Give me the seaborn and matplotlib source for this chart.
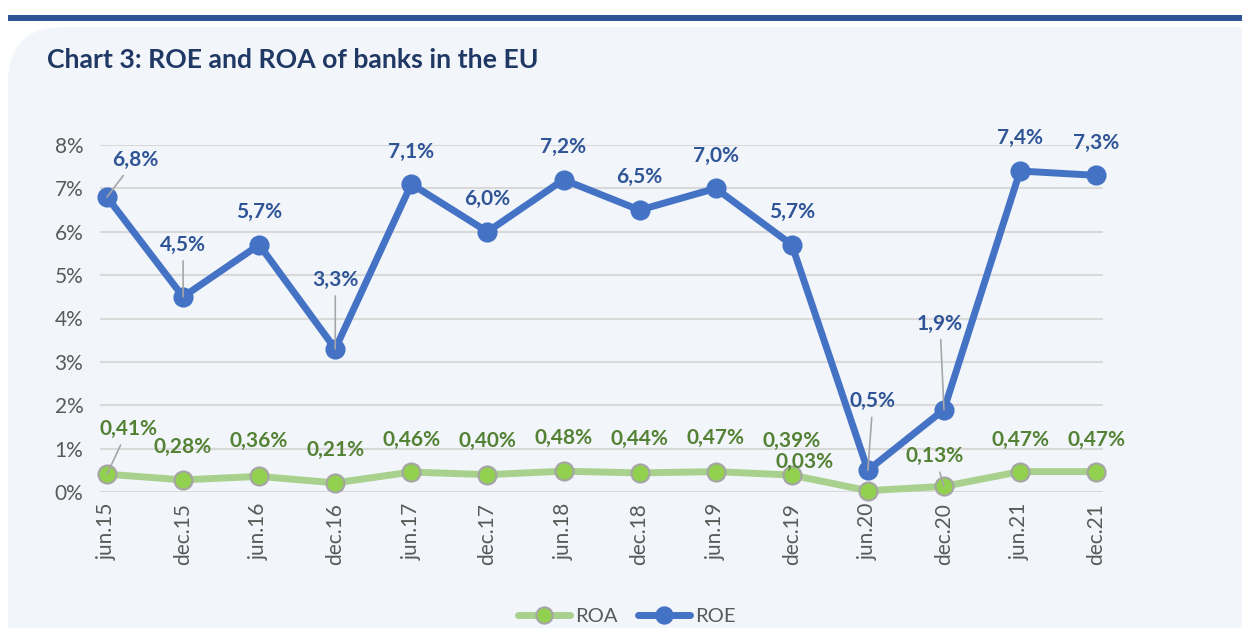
import matplotlib
matplotlib.use("Agg")
import matplotlib.pyplot as plt
from matplotlib.patches import FancyBboxPatch, Rectangle
import seaborn as sns
import pandas as pd

periods = ["jun.15", "dec.15", "jun.16", "dec.16", "jun.17", "dec.17", "jun.18",
           "dec.18", "jun.19", "dec.19", "jun.20", "dec.20", "jun.21", "dec.21"]
roe = [6.8, 4.5, 5.7, 3.3, 7.1, 6.0, 7.2, 6.5, 7.0, 5.7, 0.5, 1.9, 7.4, 7.3]
roa = [0.41, 0.28, 0.36, 0.21, 0.46, 0.40, 0.48, 0.44, 0.47, 0.39, 0.03, 0.13, 0.47, 0.47]
y_ticks = [0, 1, 2, 3, 4, 5, 6, 7, 8]
title = "Chart 3: ROE and ROA of banks in the EU"

sns.set_theme(style="white")
plt.rcParams['font.family'] = ['Lato', 'DejaVu Sans']

W, H = 1242, 628
fig = plt.figure(figsize=(W / 100, H / 100), dpi=100)
fig.patch.set_facecolor("white")

# panel background and top bar
bg = "#F2F5FA"
panel = FancyBboxPatch((8 / W, -0.1), 1.2, (628 - 27) / H + 0.1,
                       boxstyle="round,pad=0,rounding_size=0.045",
                       transform=fig.transFigure, facecolor=bg, edgecolor="none",
                       mutation_aspect=W / H, zorder=-3)
fig.patches.append(panel)
fig.patches.append(Rectangle((8 / W, 1 - 21 / H), 1, 6 / H, transform=fig.transFigure,
                             facecolor="#2F5597", edgecolor="none", zorder=-2))
fig.text(47 / W, 1 - 60 / H, title, fontsize=19.2, fontweight="bold",
         color="#1F3864", va="center", ha="left")

left, right = 100 / W, 1103 / W
bottom, top = 1 - 492 / H, 1 - 145 / H
ax = fig.add_axes([left, bottom, right - left, top - bottom])
ax.set_zorder(1)
ax.patch.set_alpha(0)

df = pd.DataFrame({"x": range(len(periods)), "period": periods, "ROE": roe, "ROA": roa})

sns.lineplot(data=df, x="x", y="ROA", ax=ax, color="#A9D18E", lw=5,
             marker="o", markersize=13, markerfacecolor="#92D050",
             markeredgecolor="#A5A5A5", markeredgewidth=1.5, label="ROA",
             clip_on=False, zorder=3)
sns.lineplot(data=df, x="x", y="ROE", ax=ax, color="#4472C4", lw=5,
             marker="o", markersize=13, markerfacecolor="#4472C4",
             markeredgecolor="#4472C4", markeredgewidth=1.5, label="ROE",
             clip_on=False, zorder=4)

ax.set_xlim(-0.092, 13.09)
ax.set_ylim(0, 8)
ax.set_yticks(y_ticks)
ax.set_yticklabels([f"{t}%" for t in y_ticks])
ax.set_xticks(range(len(periods)))
ax.set_xticklabels(periods, rotation=90)
ax.tick_params(axis="both", length=0, labelsize=15, labelcolor="#595959")
ax.tick_params(axis="x", pad=8)
ax.tick_params(axis="y", pad=12)
ax.set_xlabel("")
ax.set_ylabel("")
for s in ax.spines.values():
    s.set_visible(False)
ax.grid(axis="y", color="#D9D9D9", lw=1.5)
ax.set_axisbelow(True)

def fmt(v, d):
    return (f"{v:.{d}f}%").replace(".", ",")

# offsets in pixels (dx, dy up), leader flag
roe_off = [(28, 37, True), (0, 52, True), (0, 33, False), (0, 69, True), (0, 32, False),
           (0, 33, False), (0, 33, False), (0, 33, False), (0, 32, False), (0, 33, False),
           (5, 69, True), (-4, 86, True), (0, 33, False), (0, 32, False)]
roa_off = [(21, 45, True), (0, 33, False), (0, 35, False), (0, 33, False), (0, 32, False),
           (0, 34, False), (0, 33, False), (0, 34, False), (0, 34, False), (0, 34, False),
           (-63, 29, False), (-9, 30, True), (0, 32, False), (0, 32, False)]

def label(vals, offs, dec, color):
    for i, (v, (dx, dy, lead)) in enumerate(zip(vals, offs)):
        kw = {}
        if lead:
            kw["arrowprops"] = dict(arrowstyle="-", color="#A6A6A6", lw=1.2,
                                    shrinkA=2, shrinkB=0)
        ax.annotate(fmt(v, dec), xy=(i, v), xytext=(dx, dy), textcoords="offset pixels",
                    ha="center", va="center", fontsize=15, fontweight="bold",
                    color=color, zorder=6, annotation_clip=False, **kw)

label(roe, roe_off, 1, "#2F5597")
label(roa, roa_off, 2, "#548235")

leg = ax.legend(loc="center", bbox_to_anchor=(0.525, (1 - 616 / H - bottom) / (top - bottom)),
                ncol=2, frameon=False, fontsize=14.5, handlelength=2.6, columnspacing=1.0,
                handletextpad=0.25, markerscale=0.9)
for t in leg.get_texts():
    t.set_color("#595959")

fig.savefig("out.png", dpi=100, facecolor=fig.get_facecolor())
